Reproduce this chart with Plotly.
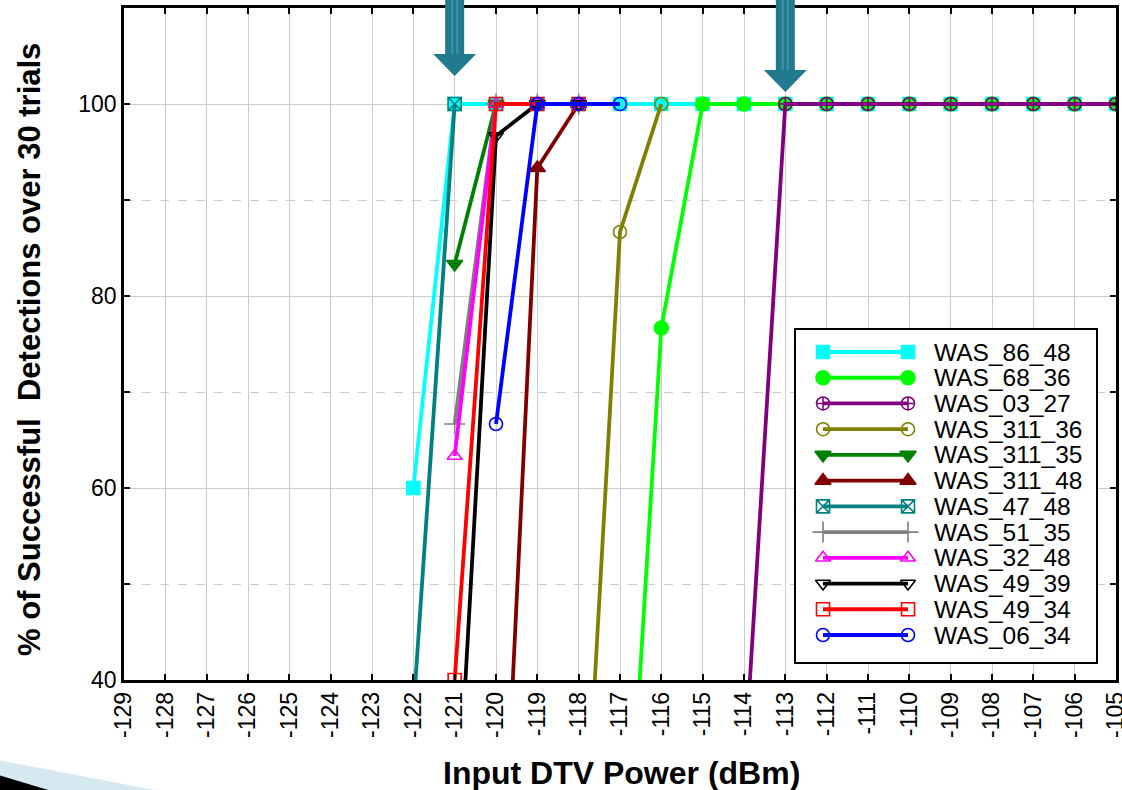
import plotly.graph_objects as go

# ---------------- data ----------------
series_names = ["WAS_86_48", "WAS_68_36", "WAS_03_27", "WAS_311_36", "WAS_311_35", "WAS_311_48",
                "WAS_47_48", "WAS_51_35", "WAS_32_48", "WAS_49_39", "WAS_49_34", "WAS_06_34"]

power_86_48 = [-122, -121, -120, -119, -118, -117, -116, -115, -114, -113, -112, -111, -110, -109, -108, -107, -106, -105]
pct_86_48 = [60, 100, 100, 100, 100, 100, 100, 100, 100, 100, 100, 100, 100, 100, 100, 100, 100, 100]

power_68_36 = [-117, -116, -115, -114, -113, -112, -111, -110, -109, -108, -107, -106, -105]
pct_68_36 = [6.67, 76.67, 100, 100, 100, 100, 100, 100, 100, 100, 100, 100, 100]

power_03_27 = [-114, -113, -112, -111, -110, -109, -108, -107, -106, -105]
pct_03_27 = [30, 100, 100, 100, 100, 100, 100, 100, 100, 100]

power_311_36 = [-118, -117, -116]
pct_311_36 = [10, 86.67, 100]

power_311_35 = [-121, -120, -119, -118]
pct_311_35 = [83.33, 100, 100, 100]

power_311_48 = [-120, -119, -118]
pct_311_48 = [3.33, 93.33, 100]

power_47_48 = [-122, -121]
pct_47_48 = [36.67, 100]

power_51_35 = [-121, -120, -119, -118]
pct_51_35 = [66.67, 100, 100, 100]

power_32_48 = [-121, -120, -119, -118]
pct_32_48 = [63.33, 100, 100, 100]

power_49_39 = [-121, -120, -119, -118]
pct_49_39 = [20, 96.67, 100, 100]

power_49_34 = [-121, -120, -119, -118]
pct_49_34 = [40, 100, 100, 100]

power_06_34 = [-120, -119, -118, -117]
pct_06_34 = [66.67, 100, 100, 100]

x_ticks = [-129, -128, -127, -126, -125, -124, -123, -122, -121, -120, -119, -118, -117,
           -116, -115, -114, -113, -112, -111, -110, -109, -108, -107, -106, -105]
y_ticks = [40, 60, 80, 100]
arrow_positions = [-121, -113]

# ---------------- styles ----------------
xs = [power_86_48, power_68_36, power_03_27, power_311_36, power_311_35, power_311_48,
      power_47_48, power_51_35, power_32_48, power_49_39, power_49_34, power_06_34]
ys = [pct_86_48, pct_68_36, pct_03_27, pct_311_36, pct_311_35, pct_311_48,
      pct_47_48, pct_51_35, pct_32_48, pct_49_39, pct_49_34, pct_06_34]
colors = ["#00ffff", "#00ff00", "#800080", "#808000", "#008000", "#800000",
          "#008080", "#808080", "#ff00ff", "#000000", "#ff0000", "#0000ff"]
symbols = ["square", "circle", "circle-cross-open", "circle-open", "triangle-down", "triangle-up",
           "square-x-open", "cross-thin-open", "triangle-up-open", "triangle-down-open", "square-open", "circle-open"]
sizes = [13, 14, 13, 13, 14, 14, 13, 15, 13, 13, 13, 13]

FONT = "Liberation Sans, Arial, sans-serif"
W, H = 1122, 790
ML, MR, MT, MB = 124, 6, 8, 110
PW, PH = W - ML - MR, H - MT - MB


def pxx(px):
    return (px - ML) / PW


def pxy(py):
    return (H - MB - py) / PH


fig = go.Figure()

for i in range(len(series_names)):
    fig.add_trace(go.Scatter(
        x=xs[i], y=ys[i], mode="lines+markers", name=series_names[i],
        line=dict(color=colors[i], width=3.8),
        marker=dict(symbol=symbols[i], size=sizes[i], color=colors[i],
                    line=dict(color=colors[i], width=1.6)),
        showlegend=False, xaxis="x", yaxis="y"))

# custom legend (long line sample with a marker at each end)
n = len(series_names)
for i in range(n):
    row = n - 1 - i
    fig.add_trace(go.Scatter(
        x=[0, 1], y=[row, row], mode="lines+markers",
        line=dict(color=colors[i], width=3.8),
        marker=dict(symbol=symbols[i], size=sizes[i], color=colors[i],
                    line=dict(color=colors[i], width=1.6)),
        showlegend=False, hoverinfo="skip", xaxis="x2", yaxis="y2"))
    fig.add_annotation(x=1.28, y=row, xref="x2", yref="y2", text=series_names[i],
                       showarrow=False, xanchor="left", yanchor="middle",
                       font=dict(family=FONT, size=24.5, color="black"))

# legend box geometry (px)
LX0, LX1, LY0, LY1 = 796, 1096, 330, 662
lx_unit = 85.0
lx_start = -(823 - LX0) / lx_unit
lx_end = lx_start + (LX1 - LX0) / lx_unit
ly_unit = (635 - 352) / (n - 1)
ly_bottom = -(LY1 - 635) / ly_unit
ly_top = (n - 1) + (352 - LY0) / ly_unit

# arrows
shapes = []
for k, xa in enumerate(arrow_positions):
    top = pxy(-2)
    neck = pxy(54 if k == 0 else 70)
    tip = pxy(76 if k == 0 else 92)
    sw = 9.5 / (PW / 24)
    hw = 21.5 / (PW / 24)
    path = (f"M {xa - sw},{top} L {xa + sw},{top} L {xa + sw},{neck} L {xa + hw},{neck} "
            f"L {xa},{tip} L {xa - hw},{neck} L {xa - sw},{neck} Z")
    shapes.append(dict(type="path", xref="x", yref="paper", path=path,
                       fillcolor="#217a8e", line=dict(width=0), layer="above"))
    for off in (-0.06, 0.06):
        shapes.append(dict(type="line", xref="x", yref="paper", x0=xa + off, x1=xa + off,
                           y0=top, y1=neck, line=dict(color="#58a9bd", width=1), layer="above"))

# bottom-left slide decoration
shapes.append(dict(type="path", xref="paper", yref="paper", layer="above",
                   path=f"M {pxx(-2)},{pxy(760)} L {pxx(165)},{pxy(792)} L {pxx(-2)},{pxy(792)} Z",
                   fillcolor="#d6e8f0", line=dict(width=0)))
shapes.append(dict(type="path", xref="paper", yref="paper", layer="above",
                   path=f"M {pxx(-2)},{pxy(775)} L {pxx(55)},{pxy(792)} L {pxx(-2)},{pxy(792)} Z",
                   fillcolor="#000000", line=dict(width=0)))

fig.add_annotation(x=pxx(621), y=pxy(773), xref="paper", yref="paper", text="Input DTV Power (dBm)",
                   showarrow=False, xanchor="center", yanchor="middle",
                   font=dict(family=FONT, size=32, color="black", weight="bold"))
fig.add_annotation(x=pxx(29), y=pxy(350), xref="paper", yref="paper",
                   text="% of Successful  Detections over 30 trials", textangle=-90,
                   showarrow=False, xanchor="center", yanchor="middle",
                   font=dict(family=FONT, size=31, color="black", weight="bold"))

fig.update_layout(
    width=W, height=H,
    margin=dict(l=ML, r=MR, t=MT, b=MB, pad=0, autoexpand=False),
    paper_bgcolor="white", plot_bgcolor="white",
    font=dict(family=FONT, color="black"),
    shapes=shapes,
    xaxis=dict(range=[-129, -105], tickvals=x_ticks, ticktext=[str(v) for v in x_ticks],
               tickangle=-90, ticks="inside", ticklen=6, tickwidth=1.5, tickcolor="black",
               showline=True, linecolor="black", linewidth=2.5, mirror="ticks",
               showgrid=True, gridcolor="#cccccc", gridwidth=1, zeroline=False,
               ticklabeloverflow="allow", automargin=False,
               tickfont=dict(family=FONT, size=23, color="black")),
    yaxis=dict(range=[40, 110], tickvals=y_ticks, ticks="inside", ticklen=6, tickwidth=1.5,
               tickcolor="black", showline=True, linecolor="black", linewidth=2.5, mirror="ticks",
               showgrid=True, gridcolor="#cccccc", gridwidth=1, zeroline=False, automargin=False,
               minor=dict(tickvals=[50, 70, 90], ticks="inside", ticklen=6, tickcolor="black",
                          showgrid=True, gridcolor="#cccccc", griddash="dash", gridwidth=1),
               tickfont=dict(family=FONT, size=23, color="black")),
    xaxis2=dict(domain=[pxx(LX0), pxx(LX1)], anchor="y2", range=[lx_start, lx_end],
                showline=True, linecolor="black", linewidth=1.5, mirror=True, automargin=False,
                showgrid=False, zeroline=False, showticklabels=False, ticks="", fixedrange=True),
    yaxis2=dict(domain=[pxy(LY1), pxy(LY0)], anchor="x2", range=[ly_bottom, ly_top],
                showline=True, linecolor="black", linewidth=1.5, mirror=True, automargin=False,
                showgrid=False, zeroline=False, showticklabels=False, ticks="", fixedrange=True),
    showlegend=False,
)

fig.write_html("out.html", config={"displayModeBar": False},
               post_script="document.body.style.margin='0';document.body.style.overflow='hidden';")
